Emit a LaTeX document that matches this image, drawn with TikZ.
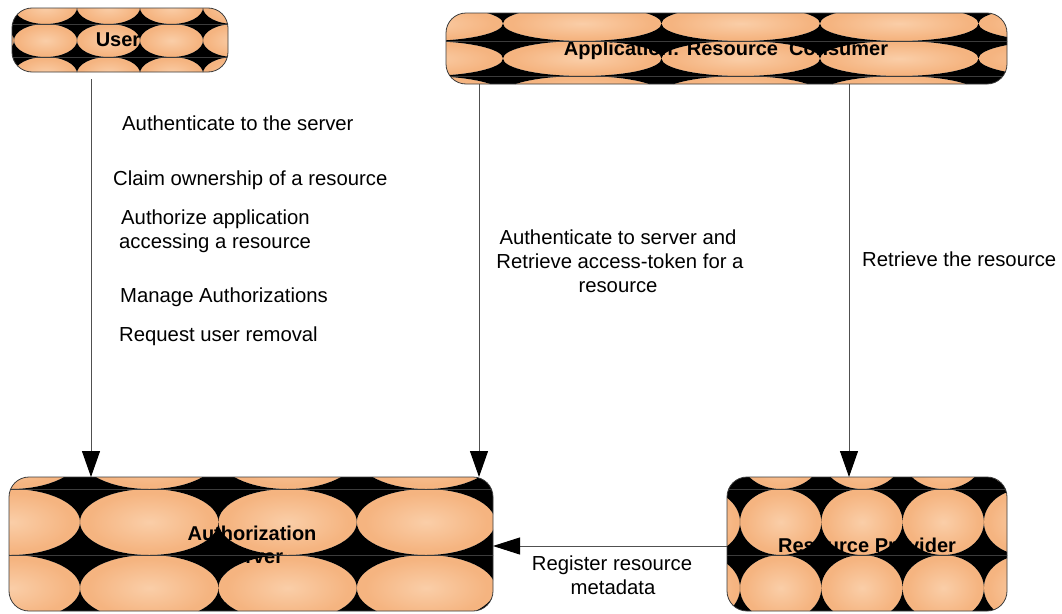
\documentclass[tikz,border=0pt]{standalone}
\usepackage{fontspec}
\setmainfont{Liberation Sans}
\usetikzlibrary{arrows.meta,calc}

\definecolor{tileorange}{RGB}{245,180,128}
\definecolor{tilelight}{RGB}{250,206,168}
\definecolor{rimgray}{RGB}{60,60,60}
\definecolor{wiregray}{RGB}{80,80,80}

% soft glow used inside every tile ellipse
\pgfdeclareradialshading{tileglow}{\pgfpoint{0bp}{0bp}}{color(0bp)=(tilelight); color(22bp)=(tileorange); color(50bp)=(tileorange)}

% orange ellipses of a 5x3 tile grid: origin x0, y0, cell width, cell height
\newcommand{\tileglowfield}[4]{%
  \pgfmathsetmacro\tileRx{0.5*#3}%
  \pgfmathsetmacro\tileRy{0.5*#4}%
  \foreach \i in {0,...,4}{\foreach \j in {0,...,2}{
    \shade[shading=tileglow] ({#1+(\i+0.5)*#3},{#2+(\j+0.5)*#4}) ellipse [x radius=\tileRx pt, y radius=\tileRy pt];
  }}}

% black gaps between the ellipses, plus the thin rules along the tile rows
\newcommand{\tilegaps}[4]{%
  \pgfmathsetmacro\tileRx{0.5*#3}%
  \pgfmathsetmacro\tileRy{0.5*#4}%
  \fill[black, even odd rule] (#1,#2) rectangle ({#1+5*#3},{#2+3*#4})
    \foreach \i in {0,...,4}{\foreach \j in {0,...,2}{
      ({#1+(\i+0.5)*#3},{#2+(\j+0.5)*#4}) ellipse [x radius=\tileRx pt, y radius=\tileRy pt]
    }};
  \foreach \j in {0,...,3}{\draw[seam] (#1,{#2+\j*#4}) -- ({#1+5*#3},{#2+\j*#4});}
}

\begin{document}
\begin{tikzpicture}[x=1pt,y=-1pt,
  panel/.style={rectangle, rounded corners=20pt, draw=rimgray, line width=0.8pt, inner sep=0pt, outer sep=0pt},
  title/.style={font=\bfseries\fontsize{20}{24}\selectfont, anchor=base, inner sep=0pt},
  note/.style={font=\fontsize{20.3}{24}\selectfont, inner sep=0pt},
  seam/.style={draw=rimgray, line width=0.7pt},
  wire/.style={draw=wiregray, line width=1pt},
  tipdown/.style={-{Triangle[length=26pt,width=18pt,color=black]}},
  tipleft/.style={-{Triangle[length=27pt,width=17pt,color=black]}}]

\fill[white] (0,0) rectangle (1062,613);
\useasboundingbox (0,0) rectangle (1062,613);

% User
\begin{scope}
  \clip[rounded corners=20pt] (12,8) rectangle (228,72);
  \tileglowfield{-49}{-9}{63}{33}
  \node[title] (userlabel) at (118,46) {User};
  \tilegaps{-49}{-9}{63}{33}
\end{scope}
\node[panel, minimum width=216pt, minimum height=64pt] (user) at (120,40) {};

% Application: Resource Consumer
\begin{scope}
  \clip[rounded corners=20pt] (446,13) rectangle (1007,84);
  \tileglowfield{344.5}{6}{158.5}{35}
  \node[title] (applabel) at (726,55) {Application: Resource\ \ Consumer};
  \tilegaps{344.5}{6}{158.5}{35}
\end{scope}
\node[panel, minimum width=561pt, minimum height=71pt] (app) at (726.5,48.5) {};

% Authorization Server
\begin{scope}
  \clip[rounded corners=20pt] (9,477) rectangle (493,611);
  \tileglowfield{-58.4}{423}{138.4}{66}
  \node[title] (authlabela) at (252,540) {Authorization};
  \node[title] (authlabelb) at (252,563) {Server};
  \tilegaps{-58.4}{423}{138.4}{66}
\end{scope}
\node[panel, minimum width=484pt, minimum height=134pt] (auth) at (251,544) {};

% Resource Provider
\begin{scope}
  \clip[rounded corners=20pt] (727,477) rectangle (1007,611);
  \tileglowfield{658.7}{423}{81.3}{66}
  \node[title] (provlabel) at (867,552) {Resource Provider};
  \tilegaps{658.7}{423}{81.3}{66}
\end{scope}
\node[panel, minimum width=280pt, minimum height=134pt] (prov) at (867,544) {};

% connectors
\draw[wire, tipdown] ($(user.south west)+(79,7)$) -- ($(auth.north west)+(82,0)$);
\draw[wire, tipdown] ($(app.south west)+(33,0)$) -- ($(auth.north east)+(-14,0)$);
\draw[wire, tipdown] ($(app.south west)+(403,0)$) -- ($(prov.north west)+(122,0)$);
\draw[wire, tipleft] ($(prov.west)+(0,2)$) -- ($(auth.east)+(0,2)$);

% user actions
\node[note, anchor=base west] (ua1) at (122,130) {Authenticate to the server};
\node[note, anchor=base west] (ua2) at (113,185) {Claim ownership of a resource};
\node[note, anchor=base west] (ua3) at (121,224) {Authorize application};
\node[note, anchor=base west] (ua4) at (119,248) {accessing a resource};
\node[note, anchor=base west] (ua5) at (120,302) {Manage Authorizations};
\node[note, anchor=base west] (ua6) at (119,341) {Request user removal};

% application actions
\node[note, anchor=base] (tok1) at (618,244) {Authenticate to server and};
\node[note, anchor=base] (tok2) at (620,268) {Retrieve access-token for a};
\node[note, anchor=base] (tok3) at (618,292) {resource};
\node[note, anchor=base west] (fetch) at (862,266) {Retrieve the resource};

% provider action
\node[note, anchor=base] (reg1) at (612,570) {Register resource};
\node[note, anchor=base] (reg2) at (613,594) {metadata};
\end{tikzpicture}
\end{document}
